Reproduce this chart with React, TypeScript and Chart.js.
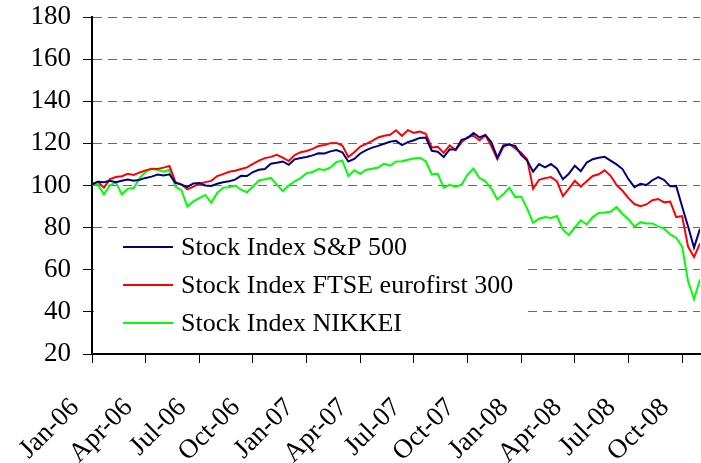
import React, { useEffect, useRef } from 'react';
import { Chart, registerables } from 'chart.js';

Chart.register(...registerables);

// Quarter tick labels (one every 3 months, starting Jan-06)
const quarterLabels = ['Jan-06', 'Apr-06', 'Jul-06', 'Oct-06', 'Jan-07', 'Apr-07', 'Jul-07', 'Oct-07', 'Jan-08', 'Apr-08', 'Jul-08', 'Oct-08'];
// one reading every third of a month (~10 days), starting Jan-06
const sampleStepMonths = 1 / 3;
const lastMonth = 34;

const seriesNames = ['Stock Index S&P 500', 'Stock Index FTSE eurofirst 300', 'Stock Index NIKKEI'];
const seriesColors = ['#000080', '#FF0000', '#00FF00'];

const sp500 = [
  100.5, 101.8, 101.5, 102.2, 101.6, 102.3, 102.8, 102.3, 102.7, 103.6,
  104.2, 105.2, 104.8, 105.3, 101.2, 100.4, 99.3, 101, 101.2, 100,
  99.8, 100.8, 101.5, 102, 102.8, 104.6, 104.5, 106.4, 107.5, 107.8,
  110.3, 110.8, 111.4, 109.8, 112.4, 113.1, 113.5, 114.3, 115.3, 115.2,
  116.2, 116.8, 115.8, 111.4, 112.6, 115.2, 116.8, 118, 118.8, 119.8,
  120.8, 121.2, 119.2, 120.6, 121.5, 122.6, 122.8, 116.5, 116, 113.5,
  117.2, 117, 121.7, 122.5, 124.9, 122.8, 124, 120.5, 113.2, 119,
  119.5, 118.8, 114.5, 111.8, 106.6, 110.2, 108.6, 110.2, 108, 103,
  105.6, 109.4, 106.8, 110.9, 112.5, 113.2, 113.6, 111.8, 110, 107.8,
  103, 99.2, 100.8, 100.2, 102.5, 104, 102.6, 99.6, 99.8, 90,
  80.5, 70.5, 79.5,
];

const ftse = [
  100.5, 101.8, 99, 103, 104, 104.4, 105.6, 105, 106.2, 107.2,
  108, 107.8, 108.5, 109.3, 101.6, 100.5, 98.2, 99.5, 100.8, 101.6,
  102.2, 104.5, 105.4, 106.5, 107, 107.8, 108.6, 110.3, 111.8, 113,
  113.6, 114.6, 113.2, 111.6, 114.5, 115.8, 116.4, 117.4, 118.8, 119.2,
  120.1, 120.2, 119, 113.5, 115.8, 118.5, 119.8, 121.2, 122.8, 123.6,
  124.1, 126.2, 123.6, 126.3, 125, 125.6, 124.5, 118, 118.4, 115.5,
  119, 116.8, 120.5, 123, 123.6, 121.5, 123.8, 118.6, 112.5, 118.4,
  119.7, 117.6, 115.5, 112.5, 98.5, 102.7, 103.5, 104, 102, 95,
  98.5, 102.2, 99.5, 102, 104.5, 105.3, 107.2, 104.6, 100.2, 97.5,
  94, 91.2, 90.2, 91, 93, 93.6, 92, 92.4, 85, 85.5,
  71, 66, 72.5,
];

const nikkei = [
  100.5, 100.5, 95.8, 100, 101.5, 95.8, 98.5, 98.8, 103.5, 106.5,
  107.8, 107.5, 106.5, 107.5, 99.5, 97.8, 90, 92.5, 94, 95.5,
  91.8, 96.5, 99, 99.2, 100, 98, 96.8, 99.5, 102.4, 103,
  103.6, 100.4, 97.4, 100, 102, 103.5, 105.9, 106.4, 107.8, 107.4,
  108.6, 111.2, 111.8, 104.5, 107.2, 105.6, 107.5, 108, 108.5, 110.4,
  109.4, 111.4, 111.5, 112.2, 112.8, 113.2, 111.5, 105.3, 105.6, 99,
  100.3, 99.4, 100.4, 105.2, 108, 103.6, 102, 98.5, 93.4, 95.8,
  99, 94.5, 94.8, 89, 82.3, 84.2, 85, 84.6, 85.5, 79,
  76.5, 80, 83.5, 81.5, 85, 87, 87.2, 87.5, 89.8, 86.5,
  84, 80.5, 82.6, 82, 82, 80.6, 79.5, 76.8, 75.2, 71,
  54.5, 46, 55.5,
];

const yMin = 20;
const yMax = 180;
const yStep = 20;

const FONT = '"Liberation Serif", "Times New Roman", serif';

const insideLegend = {
  id: 'insideLegend',
  afterDatasetsDraw(chart: any) {
    const { ctx, chartArea } = chart;
    const boxLeft = chartArea.left + 2;
    const boxTop = 231;
    ctx.save();
    ctx.fillStyle = '#ffffff';
    ctx.fillRect(boxLeft, boxTop, 528 - boxLeft, 343 - boxTop);
    ctx.font = `26px ${FONT}`;
    ctx.textBaseline = 'middle';
    ctx.textAlign = 'left';
    chart.data.datasets.forEach((ds: any, i: number) => {
      const y = 247 + i * 38;
      ctx.strokeStyle = ds.borderColor;
      ctx.lineWidth = 2;
      ctx.beginPath();
      ctx.moveTo(123, y);
      ctx.lineTo(173, y);
      ctx.stroke();
      ctx.fillStyle = '#000';
      ctx.fillText(ds.label, 181, y + 1);
    });
    ctx.restore();
  },
};

export default function App() {
  const ref = useRef<HTMLCanvasElement | null>(null);

  useEffect(() => {
    if (!ref.current) return;
    const toPoints = (vals: number[]) => vals.map((v, i) => ({ x: i * sampleStepMonths, y: v }));
    const allSeries = [sp500, ftse, nikkei];
    const chart = new Chart(ref.current, {
      type: 'line',
      data: {
        datasets: allSeries.map((vals, i) => ({
          label: seriesNames[i],
          data: toPoints(vals),
          borderColor: seriesColors[i],
          backgroundColor: seriesColors[i],
          borderWidth: 2,
          pointRadius: 0,
          tension: 0,
          fill: false,
        })),
      },
      options: {
        animation: false,
        responsive: false,
        devicePixelRatio: 1,
        layout: { padding: { top: 17, right: 1, left: 0, bottom: 0 } },
        plugins: { legend: { display: false }, tooltip: { enabled: false } },
        scales: {
          x: {
            type: 'linear',
            min: 0,
            max: lastMonth,
            afterBuildTicks: (scale: any) => {
              scale.ticks = quarterLabels.map((_, i) => ({ value: i * 3 }));
            },
            afterFit: (scale: any) => {
              scale.height = 109;
              scale.paddingLeft = 0;
              scale.paddingRight = 0;
            },
            ticks: {
              autoSkip: false,
              maxRotation: 45,
              minRotation: 45,
              color: '#000',
              padding: 29,
              labelOffset: -17,
              font: { family: FONT, size: 27 },
              callback: (v: any) => quarterLabels[Math.round(Number(v) / 3)] ?? '',
            },
            grid: { drawOnChartArea: false, tickLength: 9, color: '#000', tickColor: '#000', lineWidth: 1 },
            border: { color: '#000', width: 2 },
          },
          y: {
            min: yMin,
            max: yMax,
            afterFit: (scale: any) => {
              scale.width = 92;
            },
            ticks: {
              stepSize: yStep,
              color: '#000',
              padding: 12,
              font: { family: FONT, size: 27, lineHeight: 0.3 },
            },
            grid: {
              color: (c: any) => (c.tick && c.tick.value === yMin ? 'rgba(0,0,0,0)' : '#6a6a6a'),
              tickColor: '#000',
              tickLength: 9,
              lineWidth: 1,
              tickBorderDash: [],
            },
            border: { color: '#000', width: 2, dash: [9, 6] },
          },
        },
      },
      plugins: [insideLegend],
    });
    return () => chart.destroy();
  }, []);

  return (
    <div style={{ position: 'fixed', left: 0, top: 0, width: 701, height: 463, background: '#fff' }}>
      <canvas ref={ref} width={701} height={463} />
    </div>
  );
}
